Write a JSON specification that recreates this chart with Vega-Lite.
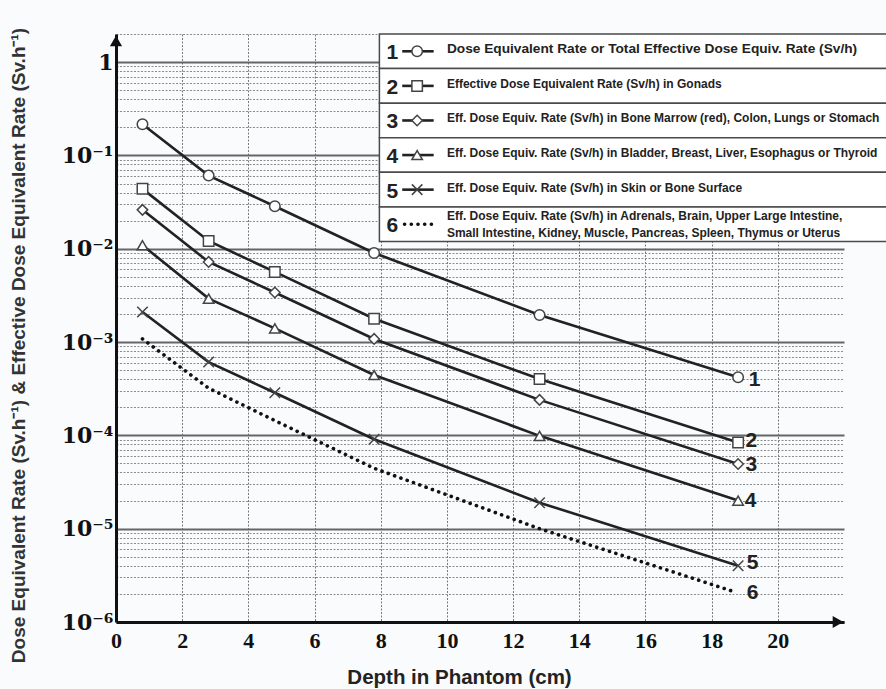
{
  "$schema": "https://vega.github.io/schema/vega-lite/v6.json",
  "width": 728,
  "height": 588,
  "autosize": "none",
  "padding": {"left": 116, "top": 34, "right": 42, "bottom": 67},
  "background": "#f9fbfd",
  "config": {"view": {"stroke": null}},
  "datasets": {
    "curves": [
      {"series": "1", "depth": 0.8, "rate": 0.216},
      {"series": "1", "depth": 2.8, "rate": 0.0608},
      {"series": "1", "depth": 4.8, "rate": 0.0285},
      {"series": "1", "depth": 7.8, "rate": 0.00901},
      {"series": "1", "depth": 12.8, "rate": 0.00195},
      {"series": "1", "depth": 18.8, "rate": 0.00042},
      {"series": "2", "depth": 0.8, "rate": 0.0438},
      {"series": "2", "depth": 2.8, "rate": 0.0121},
      {"series": "2", "depth": 4.8, "rate": 0.00564},
      {"series": "2", "depth": 7.8, "rate": 0.00178},
      {"series": "2", "depth": 12.8, "rate": 0.000401},
      {"series": "2", "depth": 18.8, "rate": 0.0000837},
      {"series": "3", "depth": 0.8, "rate": 0.0261},
      {"series": "3", "depth": 2.8, "rate": 0.00722},
      {"series": "3", "depth": 4.8, "rate": 0.0034},
      {"series": "3", "depth": 7.8, "rate": 0.00108},
      {"series": "3", "depth": 12.8, "rate": 0.00024},
      {"series": "3", "depth": 18.8, "rate": 0.0000494},
      {"series": "4", "depth": 0.8, "rate": 0.0109},
      {"series": "4", "depth": 2.8, "rate": 0.00292},
      {"series": "4", "depth": 4.8, "rate": 0.0014},
      {"series": "4", "depth": 7.8, "rate": 0.000443},
      {"series": "4", "depth": 12.8, "rate": 0.0000988},
      {"series": "4", "depth": 18.8, "rate": 0.00002},
      {"series": "5", "depth": 0.8, "rate": 0.0021},
      {"series": "5", "depth": 2.8, "rate": 0.00061},
      {"series": "5", "depth": 4.8, "rate": 0.000286},
      {"series": "5", "depth": 7.8, "rate": 0.000091},
      {"series": "5", "depth": 12.8, "rate": 0.000019},
      {"series": "5", "depth": 18.8, "rate": 0.000004},
      {"series": "6", "depth": 0.8, "rate": 0.00108},
      {"series": "6", "depth": 2.8, "rate": 0.00032},
      {"series": "6", "depth": 4.8, "rate": 0.000144},
      {"series": "6", "depth": 7.8, "rate": 0.0000444},
      {"series": "6", "depth": 12.8, "rate": 0.00001},
      {"series": "6", "depth": 18.7, "rate": 0.0000021}
    ],
    "endlabels": [
      {"num": "1", "depth": 19.3, "rate": 0.00039},
      {"num": "2", "depth": 19.2, "rate": 0.000087},
      {"num": "3", "depth": 19.2, "rate": 0.000048},
      {"num": "4", "depth": 19.18, "rate": 0.0000198},
      {"num": "5", "depth": 19.24, "rate": 0.0000043},
      {"num": "6", "depth": 19.24, "rate": 0.00000204}
    ],
    "legend": [
      {"series": "1", "label": "Dose Equivalent Rate  or Total Effective Dose Equiv. Rate (Sv/h)"},
      {"series": "2", "label": "Effective Dose Equivalent Rate (Sv/h) in Gonads"},
      {"series": "3", "label": "Eff. Dose Equiv. Rate (Sv/h) in Bone Marrow (red), Colon, Lungs or Stomach"},
      {"series": "4", "label": "Eff. Dose Equiv. Rate (Sv/h) in Bladder, Breast, Liver, Esophagus or Thyroid"},
      {"series": "5", "label": "Eff. Dose Equiv. Rate (Sv/h) in Skin or Bone Surface"},
      {"series": "6", "label": "Eff. Dose Equiv. Rate (Sv/h) in Adrenals, Brain, Upper Large Intestine,\nSmall Intestine, Kidney, Muscle, Pancreas, Spleen, Thymus or Uterus"}
    ]
  },
  "layer": [
    {
      "layer": [
        {
          "data": {"name": "curves"},
          "transform": [{"filter": "datum.series != '6'"}],
          "mark": {"type": "line", "color": "#222222", "strokeWidth": 2.6},
          "encoding": {
            "x": {
              "field": "depth", "type": "quantitative",
              "scale": {"domain": [0, 22], "nice": false, "zero": false},
              "axis": {
                "title": "Depth in Phantom (cm)",
                "values": [0, 2, 4, 6, 8, 10, 12, 14, 16, 18, 20],
                "labelFlush": false,
                "labelFont": "Liberation Serif", "labelFontWeight": "bold", "labelFontSize": 22, "labelColor": "#111111",
                "labelPadding": 8,
                "ticks": false,
                "domainColor": "#111111", "domainWidth": 3,
                "grid": true, "gridDash": [2, 1.5], "gridColor": "#7a7a7a", "gridWidth": 1,
                "titleFont": "Liberation Sans", "titleFontWeight": "bold", "titleFontSize": 20.5, "titleColor": "#222222",
                "titleX": 343, "titleY": 55, "titleAlign": "center", "titleBaseline": "middle", "titleAnchor": null
              }
            },
            "y": {
              "field": "rate", "type": "quantitative",
              "scale": {"type": "log", "domain": [0.000001, 2], "nice": false},
              "axis": {
                "title": "Dose Equivalent Rate (Sv.h⁻¹) & Effective Dose Equivalent Rate (Sv.h⁻¹)",
                "values": [1e-6, 2e-6, 3e-6, 4e-6, 5e-6, 6e-6, 7e-6, 8e-6, 9e-6,
                           1e-5, 2e-5, 3e-5, 4e-5, 5e-5, 6e-5, 7e-5, 8e-5, 9e-5,
                           1e-4, 2e-4, 3e-4, 4e-4, 5e-4, 6e-4, 7e-4, 8e-4, 9e-4,
                           0.001, 0.002, 0.003, 0.004, 0.005, 0.006, 0.007, 0.008, 0.009,
                           0.01, 0.02, 0.03, 0.04, 0.05, 0.06, 0.07, 0.08, 0.09,
                           0.1, 0.2, 0.3, 0.4, 0.5, 0.6, 0.7, 0.8, 0.9, 1, 2],
                "labelExpr": "abs(log(datum.value)/LN10 - round(log(datum.value)/LN10)) < 0.001 ? (datum.value > 0.5 ? '1\u2002' : '10' + ['⁰','⁻¹','⁻²','⁻³','⁻⁴','⁻⁵','⁻⁶'][-round(log(datum.value)/LN10)]) : ''",
                "labelOverlap": false, "labelFlush": false, "labelBound": false,
                "labelFont": "DejaVu Serif", "labelFontWeight": "bold", "labelFontSize": 22, "labelColor": "#111111",
                "labelPadding": 3,
                "ticks": false,
                "domainColor": "#111111", "domainWidth": 3,
                "grid": true,
                "gridDash": {"condition": {"test": "abs(log(datum.value)/LN10 - round(log(datum.value)/LN10)) < 0.001", "value": []}, "value": [2, 1.5]},
                "gridColor": {"condition": {"test": "abs(log(datum.value)/LN10 - round(log(datum.value)/LN10)) < 0.001", "value": "#666666"}, "value": "#8c8c8c"},
                "gridWidth": {"condition": {"test": "abs(log(datum.value)/LN10 - round(log(datum.value)/LN10)) < 0.001", "value": 2}, "value": 1},
                "titleFont": "Liberation Sans", "titleFontWeight": "bold", "titleFontSize": 19, "titleColor": "#333333",
                "titleX": -98, "titleY": 311, "titleAngle": -90, "titleAlign": "center", "titleBaseline": "middle", "titleAnchor": null
              }
            },
            "detail": {"field": "series"}
          }
        },
        {
          "data": {"name": "curves"},
          "transform": [{"filter": "datum.series == '6'"}],
          "mark": {"type": "line", "color": "#111111", "strokeWidth": 3.6, "strokeDash": [0.1, 6.6], "strokeCap": "round"},
          "encoding": {
            "x": {"field": "depth", "type": "quantitative"},
            "y": {"field": "rate", "type": "quantitative"}
          }
        },
        {
          "data": {"name": "curves"},
          "transform": [{"filter": "datum.series != '6'"}],
          "mark": {"type": "point", "filled": true, "fill": "#ffffff", "stroke": "#444444", "strokeWidth": 1.5, "size": 110, "opacity": 1},
          "encoding": {
            "x": {"field": "depth", "type": "quantitative"},
            "y": {"field": "rate", "type": "quantitative"},
            "shape": {
              "field": "series", "type": "nominal", "legend": null,
              "scale": {"domain": ["1", "2", "3", "4", "5"], "range": ["circle", "square", "diamond", "triangle-up", "M-1,-1L1,1M-1,1L1,-1"]}
            }
          }
        },
        {
          "data": {"name": "endlabels"},
          "mark": {"type": "text", "font": "Liberation Sans", "fontWeight": "bold", "fontSize": 21, "color": "#222222", "align": "center", "baseline": "middle"},
          "encoding": {
            "x": {"field": "depth", "type": "quantitative"},
            "y": {"field": "rate", "type": "quantitative"},
            "text": {"field": "num"}
          }
        },
        {
          "data": {"values": [{"end": "top"}]},
          "mark": {"type": "point", "shape": "triangle-up", "filled": true, "color": "#111111", "size": 150, "opacity": 1, "yOffset": 7},
          "encoding": {
            "x": {"datum": 0, "type": "quantitative"},
            "y": {"datum": 2, "type": "quantitative"}
          }
        },
        {
          "data": {"values": [{"end": "right"}]},
          "mark": {"type": "point", "shape": "triangle-right", "filled": true, "color": "#111111", "size": 150, "opacity": 1, "xOffset": -6},
          "encoding": {
            "x": {"datum": 22, "type": "quantitative"},
            "y": {"datum": 0.000001, "type": "quantitative"}
          }
        }
      ]
    },
    {
      "data": {"name": "legend"},
      "layer": [
        {
          "mark": {"type": "rect", "fill": "#ffffff", "stroke": "#4a4a4a", "strokeWidth": 1.5},
          "encoding": {
            "x": {"datum": 7.96, "type": "quantitative"},
            "x2": {"datum": 23.6},
            "y": {
              "field": "series", "type": "ordinal", "axis": null,
              "scale": {"domain": ["1", "2", "3", "4", "5", "6", "7", "8", "9", "10", "11", "12", "13", "14", "15", "16", "17"], "paddingInner": 0, "paddingOuter": 0}
            }
          }
        },
        {
          "transform": [{"filter": "datum.series != '6'"}],
          "mark": {"type": "rule", "color": "#222222", "strokeWidth": 2.6},
          "encoding": {
            "x": {"datum": 8.65, "type": "quantitative"},
            "x2": {"datum": 9.6},
            "y": {"field": "series", "type": "ordinal", "axis": null}
          }
        },
        {
          "transform": [{"filter": "datum.series == '6'"}],
          "mark": {"type": "rule", "color": "#111111", "strokeWidth": 3.6, "strokeDash": [0.1, 6.6], "strokeCap": "round"},
          "encoding": {
            "x": {"datum": 8.72, "type": "quantitative"},
            "x2": {"datum": 9.6},
            "y": {"field": "series", "type": "ordinal", "axis": null}
          }
        },
        {
          "transform": [{"filter": "datum.series != '6'"}],
          "mark": {"type": "point", "filled": true, "fill": "#ffffff", "stroke": "#444444", "strokeWidth": 1.5, "size": 110, "opacity": 1},
          "encoding": {
            "x": {"datum": 9.1, "type": "quantitative"},
            "y": {"field": "series", "type": "ordinal", "axis": null},
            "shape": {"field": "series", "type": "nominal", "legend": null}
          }
        },
        {
          "mark": {"type": "text", "font": "Liberation Sans", "fontWeight": "bold", "fontSize": 21, "color": "#222222", "align": "center", "baseline": "middle", "dy": 2},
          "encoding": {
            "x": {"datum": 8.35, "type": "quantitative"},
            "y": {"field": "series", "type": "ordinal", "axis": null},
            "text": {"field": "series"}
          }
        },
        {
          "transform": [{"filter": "datum.series != '6'"}],
          "mark": {"type": "text", "font": "Liberation Sans", "fontWeight": "bold", "color": "#222222", "align": "left", "baseline": "middle", "dy": -2},
          "encoding": {
            "x": {"datum": 10.0, "type": "quantitative"},
            "y": {"field": "series", "type": "ordinal", "axis": null},
            "text": {"field": "label"},
            "size": {"condition": {"test": "datum.series == '1'", "value": 13.7}, "value": 12}
          }
        },
        {
          "transform": [{"filter": "datum.series == '6'"}],
          "mark": {"type": "text", "font": "Liberation Sans", "fontWeight": "bold", "fontSize": 12, "color": "#222222", "align": "left", "baseline": "middle", "dy": -8, "lineBreak": "\n", "lineHeight": 17},
          "encoding": {
            "x": {"datum": 10.0, "type": "quantitative"},
            "y": {"field": "series", "type": "ordinal", "axis": null},
            "text": {"field": "label"}
          }
        }
      ]
    }
  ],
  "resolve": {"scale": {"y": "independent"}}
}
